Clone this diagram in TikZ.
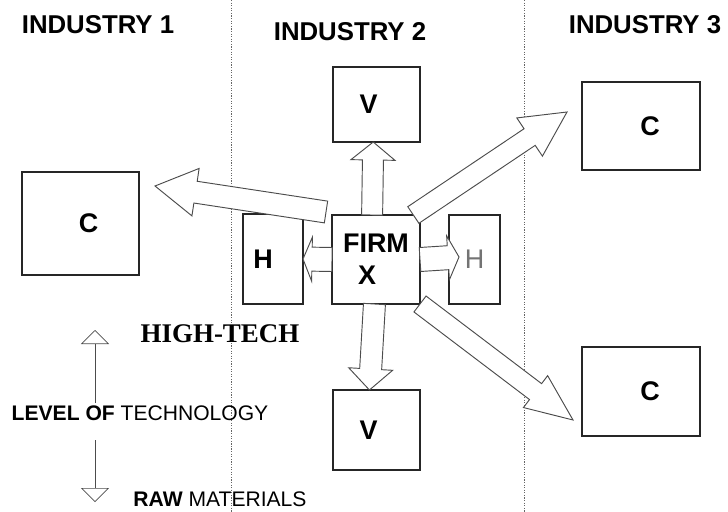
\documentclass[tikz,border=0pt]{standalone}
\usepackage{fontspec}
\setmainfont{Liberation Sans}
\newfontfamily\headserif{Liberation Serif}
\usetikzlibrary{positioning}
\usetikzlibrary{calc}
\usetikzlibrary{arrows.meta}

\tikzset{
  box/.style={draw=black!85, line width=1.1pt, fill=white, inner sep=0pt, outer sep=0pt,
    font=\fontsize{23}{27}\selectfont\bfseries},
  industry/.style={font=\fontsize{22}{26}\selectfont\bfseries},
  divider/.style={black!60, line width=0.7pt, dash pattern=on 1pt off 1.2pt},
  techarrow/.style={black!70, line width=0.6pt, -{Triangle[open, width=0.84cm, length=0.42cm]}},
  % hollow block arrow: shaft half width / head half width / head length (in px)
  fat/.style n args={3}{draw=black!70, line width=0.8pt, fill=white, line join=miter,
    to path={
      ($(\tikztostart)!#1*0.03cm!90:(\tikztotarget)$)
      -- ($(\tikztotarget)!#3*0.03cm!(\tikztostart)!#1*0.03cm!90:(\tikztotarget)$)
      -- ($(\tikztotarget)!#3*0.03cm!(\tikztostart)!#2*0.03cm!90:(\tikztotarget)$)
      -- (\tikztotarget)
      -- ($(\tikztotarget)!#3*0.03cm!(\tikztostart)!#2*0.03cm!-90:(\tikztotarget)$)
      -- ($(\tikztotarget)!#3*0.03cm!(\tikztostart)!#1*0.03cm!-90:(\tikztotarget)$)
      -- ($(\tikztostart)!#1*0.03cm!-90:(\tikztotarget)$)
      -- cycle}},
}

\begin{document}
\begin{tikzpicture}[x=0.03cm, y=-0.03cm]
    \useasboundingbox (0,0) rectangle (728,512);

    % industry borders
    \draw[divider] (231,0) -- (231,512);
    \draw[divider] (524,0) -- (524,512);

    \node[industry] (ind1) at (98,25) {INDUSTRY 1};
    \node[industry] (ind2) at (350,32) {INDUSTRY 2};
    \node[industry] (ind3) at (645,25) {INDUSTRY 3};

    % boxes
    \node[box, minimum width=3.51cm, minimum height=3.09cm] (c1) at (80.5,223.5) {\hspace*{0.48cm}C};
    \node[box, minimum width=2.61cm, minimum height=2.25cm] (v1) at (376.5,104.5) {V\hspace*{0.48cm}};
    \node[box, minimum width=2.64cm, minimum height=2.67cm, align=center] (firm) at (376,259.5) {FIRM\\X\hspace*{0.54cm}};
    \node[box, minimum width=1.8cm, minimum height=2.7cm] (h1) at (273,259) {H\hspace*{0.6cm}};
    \node[box, minimum width=1.53cm, minimum height=2.67cm] (h2) at (474.5,259.5) {\textcolor{black!55}{\mdseries H}};
    \node[box, minimum width=2.61cm, minimum height=2.4cm] (v2) at (376.5,430) {V\hspace*{0.48cm}};
    \node[box, minimum width=3.54cm, minimum height=2.64cm] (c2) at (641,126) {\hspace*{0.54cm}C};
    \node[box, minimum width=3.54cm, minimum height=2.67cm] (c3) at (641,391.5) {\hspace*{0.54cm}C};

    % free ends of the block arrows
    \coordinate (tailC1) at (326,212);
    \coordinate (tipC1) at (155,186);
    \coordinate (tipC2) at (567,112);
    \coordinate (tipC3) at (573,420);
    \coordinate (tipH2) at (459,257);

    \draw[fat={11}{24}{41}] (tailC1) to (tipC1);
    \draw[fat={10.5}{22}{18}] (firm.95) to (v1.265);
    \draw[fat={11}{22}{21}] (firm.268) to (v2.100);
    \draw[fat={12}{22}{9}] (firm.west) to (h1.east);
    \draw[fat={12}{22}{11}] (firm.east) to (tipH2);
    \draw[fat={10}{23}{45}] (firm.50) to (tipC2);
    \draw[fat={10}{20}{47}] (firm.south east) to (tipC3);

    % technology scale
    \node[font=\headserif\fontsize{23}{26}\selectfont\bfseries] (hitech) at (220,334) {HIGH-TECH};
    \node[font=\fontsize{18}{20}\selectfont] (techlevel) at (140,413) {\textbf{LEVEL OF} TECHNOLOGY};
    \node[font=\fontsize{18}{20}\selectfont] (rawmat) at (220,499) {\textbf{RAW} MATERIALS};

    \coordinate (hiTip) at (95,330);
    \coordinate (hiEnd) at (95,403);
    \coordinate (rawTop) at (95,440);
    \coordinate (rawTip) at (95,502);
    \draw[techarrow] (hiEnd) -- (hiTip);
    \draw[techarrow] (rawTop) -- (rawTip);
\end{tikzpicture}
\end{document}
